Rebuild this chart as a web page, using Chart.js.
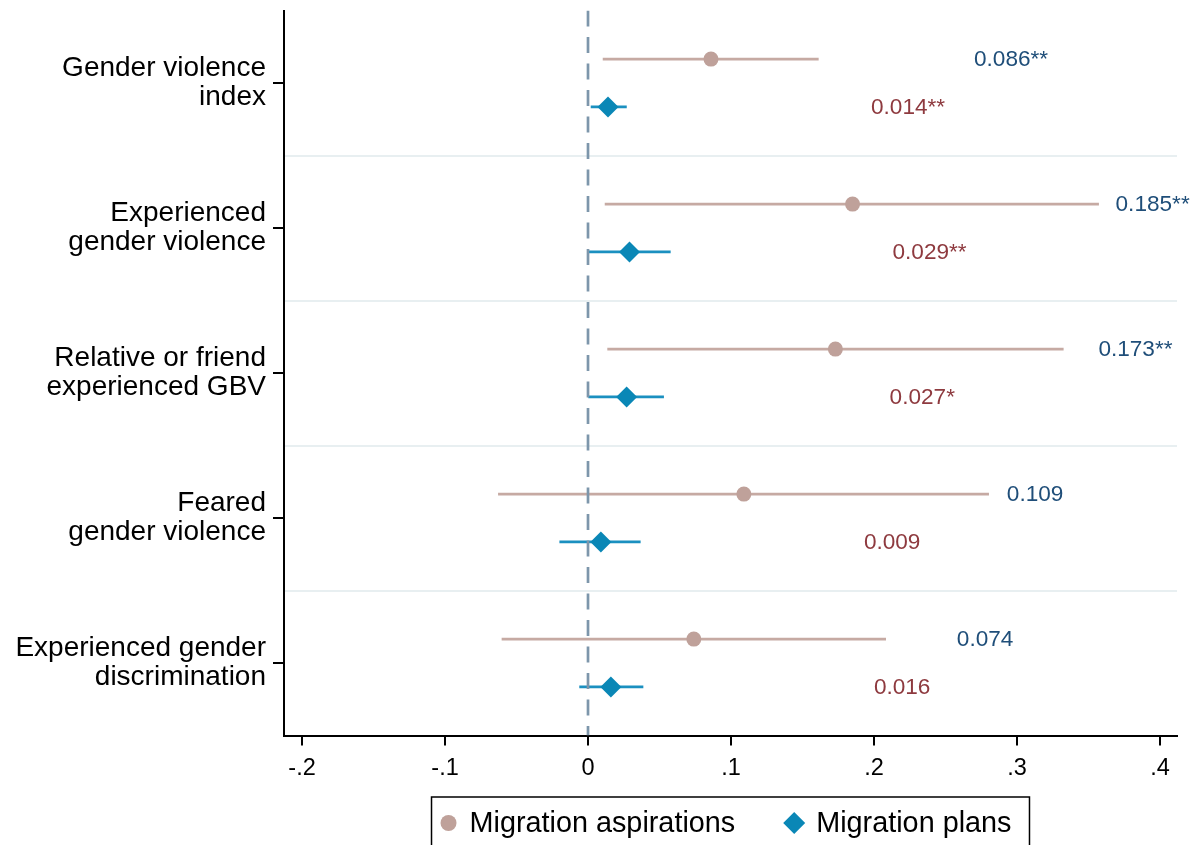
<!DOCTYPE html>
<html><head><meta charset="utf-8">
<script src="https://cdn.jsdelivr.net/npm/chart.js@4"></script>
<style>html,body{margin:0;padding:0;background:#fff;}#wrap{width:1196px;height:845px;position:relative;}canvas{display:block;}</style>
</head><body><div id="wrap"><canvas id="c" width="1196" height="845" style="width:1196px;height:845px"></canvas></div>
<script>
// ---- data ----
const categories = [
  ["Gender violence", "index"],
  ["Experienced", "gender violence"],
  ["Relative or friend", "experienced GBV"],
  ["Feared", "gender violence"],
  ["Experienced gender", "discrimination"]
];
const seriesNames = ["Migration aspirations", "Migration plans"];
const aspEst = [0.086, 0.185, 0.173, 0.109, 0.074];
const aspLo  = [0.0103, 0.0117, 0.0135, -0.0629, -0.0604];
const aspHi  = [0.1613, 0.3573, 0.3326, 0.2804, 0.2084];
const aspLabels = ["0.086**", "0.185**", "0.173**", "0.109", "0.074"];
const plansEst = [0.014, 0.029, 0.027, 0.009, 0.016];
const plansLo  = [0.0019, 0.0002, 0.0002, -0.0200, -0.0061];
const plansHi  = [0.0271, 0.0578, 0.0531, 0.0368, 0.0387];
const plansLabels = ["0.014**", "0.029**", "0.027*", "0.009", "0.016"];
const xTicks = [-0.2, -0.1, 0, 0.1, 0.2, 0.3, 0.4];

// ---- styles ----
const FONT = "'Liberation Sans', Arial, Helvetica, sans-serif";
const aspColor = "#bfa19a", aspLine = "#c6aaa3";
const plansColor = "#0a87b6", plansLine = "#1b90c0";
const aspLabColor = "#1f4e79", plansLabColor = "#8e3a3f";
const OFF = 0.165;

const rowPos = categories.map((_, i) => i + 1);
function ciData(lo, hi, off) {
  const d = [];
  rowPos.forEach((p, i) => {
    d.push({x: lo[i], y: p + off}, {x: hi[i], y: p + off}, {x: null, y: null});
  });
  return d;
}
function noPad(s) { s.paddingTop = 0; s.paddingBottom = 0; s.paddingLeft = 0; s.paddingRight = 0; }

const valueLabels = {
  id: "valueLabels",
  afterDatasetsDraw(chart) {
    const {ctx, scales: {x, y}} = chart;
    ctx.save();
    ctx.font = "22.6px " + FONT;
    ctx.textAlign = "left";
    ctx.textBaseline = "middle";
    rowPos.forEach((p, i) => {
      ctx.fillStyle = aspLabColor;
      ctx.fillText(aspLabels[i], x.getPixelForValue(aspEst[i]) + 263, y.getPixelForValue(p - OFF) + 1);
      ctx.fillStyle = plansLabColor;
      ctx.fillText(plansLabels[i], x.getPixelForValue(plansEst[i]) + 263, y.getPixelForValue(p + OFF) + 1);
    });
    ctx.restore();
  }
};

const boxLegend = {
  id: "boxLegend",
  afterDraw(chart) {
    const {ctx, chartArea} = chart;
    ctx.save();
    ctx.font = "28.8px " + FONT;
    const w1 = ctx.measureText(seriesNames[0]).width;
    const w2 = ctx.measureText(seriesNames[1]).width;
    const total = 17 + 21 + w1 + 59 + 22 + w2 + 18;
    const left = (chartArea.left + chartArea.right) / 2 - total / 2;
    const top = 797, cy = 823;
    ctx.strokeStyle = "#000";
    ctx.lineWidth = 1.5;
    ctx.strokeRect(left, top, total, 70);
    let cx = left + 17;
    ctx.fillStyle = aspColor;
    ctx.beginPath(); ctx.arc(cx, cy, 8, 0, Math.PI * 2); ctx.fill();
    ctx.fillStyle = "#000";
    ctx.textAlign = "left"; ctx.textBaseline = "middle";
    ctx.fillText(seriesNames[0], cx + 21, cy + 1);
    cx = cx + 21 + w1 + 59;
    ctx.fillStyle = plansColor;
    ctx.beginPath();
    ctx.moveTo(cx, cy - 11); ctx.lineTo(cx + 11, cy); ctx.lineTo(cx, cy + 11); ctx.lineTo(cx - 11, cy);
    ctx.closePath(); ctx.fill();
    ctx.fillStyle = "#000";
    ctx.fillText(seriesNames[1], cx + 22, cy + 1);
    ctx.restore();
  }
};

new Chart(document.getElementById("c"), {
  type: "scatter",
  data: {
    datasets: [
      {
        label: seriesNames[0],
        data: rowPos.map((p, i) => ({x: aspEst[i], y: p - OFF})),
        pointStyle: "circle", pointRadius: 7.5, pointHoverRadius: 7.5,
        backgroundColor: aspColor, borderColor: aspColor, borderWidth: 0,
        order: 0
      },
      {
        label: seriesNames[1],
        data: rowPos.map((p, i) => ({x: plansEst[i], y: p + OFF})),
        pointStyle: "rectRot", pointRadius: 10.5, pointHoverRadius: 10.5,
        backgroundColor: plansColor, borderColor: plansColor, borderWidth: 0,
        order: 0
      },
      {
        type: "line", label: "zero",
        data: [{x: 0, y: 0.5}, {x: 0, y: 5.5}],
        borderColor: "#7d96ab", borderWidth: 2.7, borderDash: [16, 10.5],
        pointRadius: 0, order: 1
      },
      {
        type: "line", label: "ci1",
        data: ciData(aspLo, aspHi, -OFF),
        borderColor: aspLine, borderWidth: 2.7, pointRadius: 0, spanGaps: false, order: 2
      },
      {
        type: "line", label: "ci2",
        data: ciData(plansLo, plansHi, OFF),
        borderColor: plansLine, borderWidth: 2.7, pointRadius: 0, spanGaps: false, order: 2
      }
    ]
  },
  options: {
    responsive: false,
    maintainAspectRatio: false,
    animation: false,
    events: [],
    devicePixelRatio: 1,
    layout: {padding: {top: 9, right: 19, left: 0, bottom: 0}},
    plugins: {legend: {display: false}, tooltip: {enabled: false}},
    scales: {
      x: {
        type: "linear", position: "bottom",
        min: -0.2126, max: 0.4119,
        afterBuildTicks(s) { s.ticks = xTicks.map(v => ({value: v})); },
        afterFit(s) { s.height = 109.5; noPad(s); },
        grid: {drawOnChartArea: false, drawTicks: true, tickLength: 10, color: "#000", lineWidth: 2},
        border: {display: true, color: "#000", width: 2},
        ticks: {
          color: "#000", font: {family: FONT, size: 23.5}, padding: 9, maxRotation: 0,
          callback(v) {
            if (Math.abs(v) < 1e-9) return "0";
            const s = Math.abs(v).toFixed(1).replace(/^0/, "");
            return (v < 0 ? "-" : "") + s;
          }
        }
      },
      y: {
        type: "linear", position: "left", reverse: true,
        min: 0.5, max: 5.5, weight: 1,
        afterBuildTicks(s) { s.ticks = rowPos.map(v => ({value: v})); },
        afterFit(s) { s.width = 284; noPad(s); },
        grid: {drawOnChartArea: false, drawTicks: true, tickLength: 11, color: "#000", lineWidth: 2},
        border: {display: true, color: "#000", width: 2},
        ticks: {
          color: "#000", font: {family: FONT, size: 28, lineHeight: 1.046}, padding: 7,
          callback(v) { return categories[Math.round(v) - 1]; }
        }
      },
      ysep: {
        type: "linear", position: "left", reverse: true,
        min: 0.5, max: 5.5, weight: 0,
        afterBuildTicks(s) { s.ticks = [1.5, 2.5, 3.5, 4.5].map(v => ({value: v})); },
        afterFit(s) { s.width = 0; noPad(s); },
        grid: {drawOnChartArea: true, drawTicks: false, color: "#e8eff1", lineWidth: 2},
        border: {display: false},
        ticks: {display: false}
      }
    }
  },
  plugins: [valueLabels, boxLegend]
});
</script>
</body></html>
